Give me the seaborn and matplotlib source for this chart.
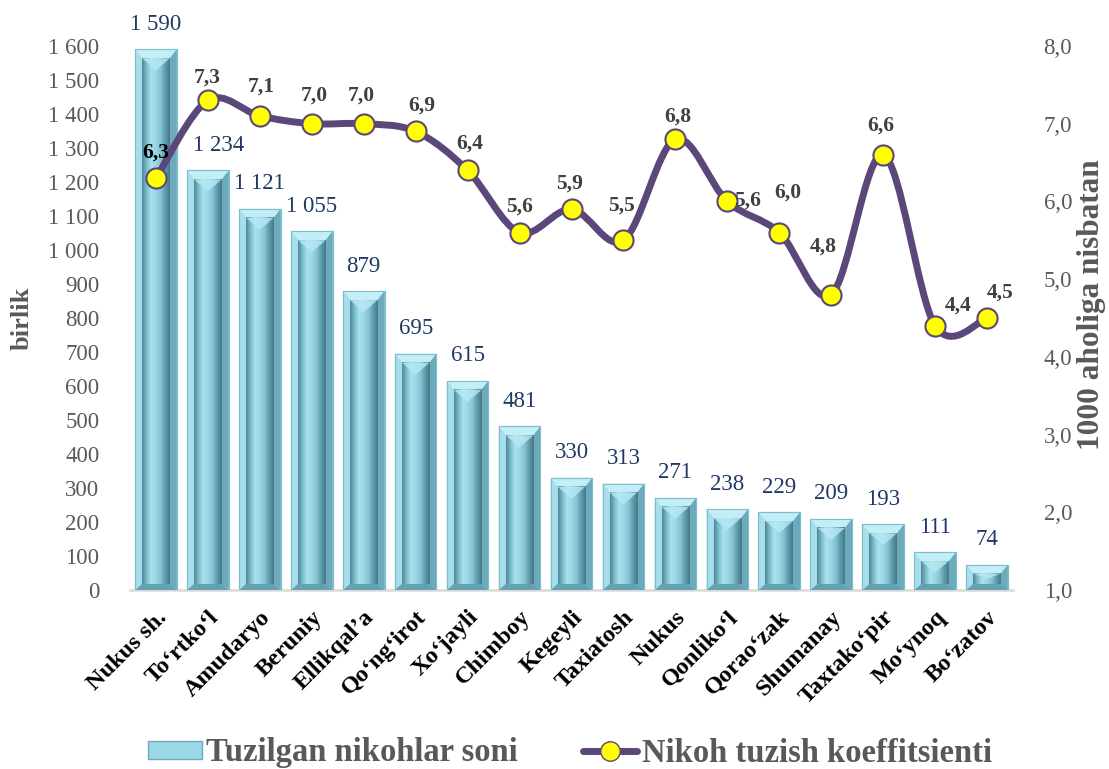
import numpy as np
import pandas as pd
import matplotlib
matplotlib.use("Agg")
import matplotlib.pyplot as plt
import seaborn as sns
from matplotlib.path import Path
from matplotlib.patches import PathPatch, Polygon, Patch
from matplotlib.lines import Line2D
from matplotlib.colors import LinearSegmentedColormap
from matplotlib.ticker import FuncFormatter, MultipleLocator

# data
districts = ["Nukus sh.", "To‘rtko‘l", "Amudaryo", "Beruniy", "Ellikqal’a",
             "Qo‘ng‘irot", "Xo‘jayli", "Chimboy", "Kegeyli", "Taxiatosh",
             "Nukus", "Qonliko‘l", "Qorao‘zak", "Shumanay", "Taxtako‘pir",
             "Mo‘ynoq", "Bo‘zatov"]
marriages = [1590, 1234, 1121, 1055, 879, 695, 615, 481, 330, 313, 271,
             238, 229, 209, 193, 111, 74]
coef = [6.3, 7.3, 7.1, 7.0, 7.0, 6.9, 6.4, 5.6, 5.9, 5.5, 6.8, 6.0, 5.6,
        4.8, 6.6, 4.4, 4.5]
# labels as printed in the source (two of them are swapped there)
coef_labels = ["6,3", "7,3", "7,1", "7,0", "7,0", "6,9", "6,4", "5,6", "5,9",
               "5,5", "6,8", "5,6", "6,0", "4,8", "6,6", "4,4", "4,5"]

# label offsets in pixels (dx, dy)
coef_offsets = [(0, 26), (-1, 23), (1, 29), (3, 28), (-2, 28), (6, 26),
                (2, 27), (0, 26), (-2, 26), (-2, 35), (2, 23), (20, 1),
                (9, 40), (-8, 48), (-2, 29), (23, 20), (13, 25)]
bar_dx = {1: 11}

purple = "#5B477A"
grey = "#595959"

sns.set_theme(style="white")
plt.rcParams["font.family"] = ["Liberation Serif", "DejaVu Serif"]

W, H = 1109, 769
fig = plt.figure(figsize=(W / 100, H / 100), dpi=100)
ax_l, ax_b, ax_w, ax_h = 130 / W, 1 - 590 / H, (1013 - 130) / W, (590 - 46) / H
ax = fig.add_axes([ax_l, ax_b, ax_w, ax_h])

df = pd.DataFrame({"tuman": districts, "nikoh": marriages})
sns.barplot(data=df, x="tuman", y="nikoh", color="#9AD8E6", saturation=1,
            width=0.8, edgecolor="#7DBDCC", linewidth=0.8, ax=ax, zorder=2)
ax.set_xlim(-0.5, 16.5)
ax.set_ylim(0, 1600)

# bevel look for each bar
sx = ax_w * W / 17.0
sy = ax_h * H / 1600.0
face = LinearSegmentedColormap.from_list(
    "face", ["#4F8898", "#7DBFCF", "#AAE2EE", "#9BD6E4", "#84C5D4", "#5E9CAC", "#46798A"])
grad = np.linspace(0, 1, 64).reshape(1, -1)
for p in list(ax.patches):
    x0, w, h = p.get_x(), p.get_width(), p.get_height()
    x1 = x0 + w
    bx = 7 / sx
    bt = min(9 / sy, h * 0.35)
    bb = min(6 / sy, h * 0.25)
    ix0, ix1, iy0, iy1 = x0 + bx, x1 - bx, bb, h - bt
    ax.add_patch(Polygon([(x0, h), (x1, h), (ix1, iy1), (ix0, iy1)], closed=True,
                         fc="#C4EEF7", ec="none", zorder=3))
    ax.add_patch(Polygon([(x0, 0), (x0, h), (ix0, iy1), (ix0, iy0)], closed=True,
                         fc="#A6DFEB", ec="none", zorder=3))
    ax.add_patch(Polygon([(x1, 0), (x1, h), (ix1, iy1), (ix1, iy0)], closed=True,
                         fc="#6DABBC", ec="none", zorder=3))
    ax.add_patch(Polygon([(x0, 0), (x1, 0), (ix1, iy0), (ix0, iy0)], closed=True,
                         fc="#65A1B1", ec="none", zorder=3))
    ax.imshow(grad, extent=[ix0, ix1, iy0, iy1], aspect="auto", cmap=face,
              zorder=4, interpolation="bilinear")
    tri = min(12 / sy, (iy1 - iy0) * 0.5)
    ax.add_patch(Polygon([(ix0, iy1), (ix1, iy1), ((ix0 + ix1) / 2, iy1 - tri)],
                         closed=True, fc="#B8E9F3", ec="none", alpha=0.8, zorder=5))
    ax.add_patch(Polygon([(x0, 0), (x1, 0), (x1, h), (x0, h)], closed=True,
                         fc="none", ec="#7DBDCC", lw=0.8, zorder=6))

ax.set_xlim(-0.5, 16.5)
ax.set_ylim(0, 1600)

for i, v in enumerate(marriages):
    ax.annotate(f"{v:,}".replace(",", " "), xy=(i, v), xytext=(bar_dx.get(i, 0), 25),
                textcoords="offset pixels", ha="center", va="center",
                fontsize=16.5, color="#1F3864", zorder=7)

ax.yaxis.set_major_locator(MultipleLocator(100))
ax.yaxis.set_major_formatter(FuncFormatter(lambda v, _: f"{int(v):,}".replace(",", " ")))
ax.tick_params(axis="y", length=0, pad=22, labelsize=16.5, labelcolor=grey)
ax.set_xticks(range(len(districts)))
ax.set_xticklabels(districts, rotation=45, ha="right", rotation_mode="anchor",
                   fontweight="bold", fontsize=17.5, color="black")
ax.tick_params(axis="x", length=0, pad=12)
ax.set_xlabel("")
ax.set_ylabel("")
for s in ["left", "right", "top"]:
    ax.spines[s].set_visible(False)
ax.spines["bottom"].set_color("#D9D9D9")
ax.spines["bottom"].set_linewidth(1.8)
ax.grid(False)

# coefficient line on the right axis
ax2 = ax.twinx()
ax2.set_ylim(1, 8)
ax2.set_xlim(-0.5, 16.5)
pts = np.column_stack([np.arange(len(coef)), coef]).astype(float)
ext = np.vstack([pts[0], pts, pts[-1]])
verts = [tuple(pts[0])]
codes = [Path.MOVETO]
for k in range(len(pts) - 1):
    p0, p1, p2, p3 = ext[k], ext[k + 1], ext[k + 2], ext[k + 3]
    c1 = p1 + (p2 - p0) / 6
    c2 = p2 - (p3 - p1) / 6
    verts += [tuple(c1), tuple(c2), tuple(p2)]
    codes += [Path.CURVE4] * 3
ax2.add_patch(PathPatch(Path(verts, codes), fc="none", ec=purple, lw=5,
                        capstyle="round", joinstyle="round", zorder=4))
sns.scatterplot(x=np.arange(len(coef)), y=coef, ax=ax2, s=210, color="#FFFF00",
                edgecolor=purple, linewidth=1.5, zorder=5, legend=False)

for i, (c, lbl) in enumerate(zip(coef, coef_labels)):
    dx, dy = coef_offsets[i]
    ax2.annotate(lbl, xy=(i, c), xytext=(dx, dy), textcoords="offset pixels",
                 ha="center", va="center", fontsize=15.5, fontweight="bold",
                 color="black" if i == 0 else "#404040", zorder=6)

ax2.yaxis.set_major_locator(MultipleLocator(1))
ax2.yaxis.set_major_formatter(FuncFormatter(lambda v, _: f"{v:.1f}".replace(".", ",")))
ax2.tick_params(axis="y", length=0, pad=22, labelsize=16.5, labelcolor=grey)
ax2.set_ylabel("")
for s in ax2.spines.values():
    s.set_visible(False)
ax2.grid(False)

fig.text(22 / W, 1 - 318 / H, "birlik", rotation=90, ha="center", va="center",
         fontsize=19, fontweight="bold", color=grey)
fig.text(1092 / W, 1 - 305 / H, "1000 aholiga nisbatan", rotation=90, ha="center",
         va="center", fontsize=22.5, fontweight="bold", color=grey)

handles = [Patch(facecolor="#9AD8E6", edgecolor="#6DABBC", lw=1),
           Line2D([], [], color=purple, lw=5, marker="o", markersize=14,
                  markerfacecolor="#FFFF00", markeredgecolor=purple)]
leg = fig.legend(handles, ["Tuzilgan nikohlar soni", "Nikoh tuzish koeffitsienti"],
                 loc="center", bbox_to_anchor=(570 / W, 1 - 753 / H), ncol=2,
                 frameon=False, prop={"size": 23.5, "weight": "bold"},
                 handlelength=1.65, handleheight=0.5, handletextpad=0.15,
                 columnspacing=2.0)
for t in leg.get_texts():
    t.set_color(grey)

fig.savefig("out.png", dpi=100)
